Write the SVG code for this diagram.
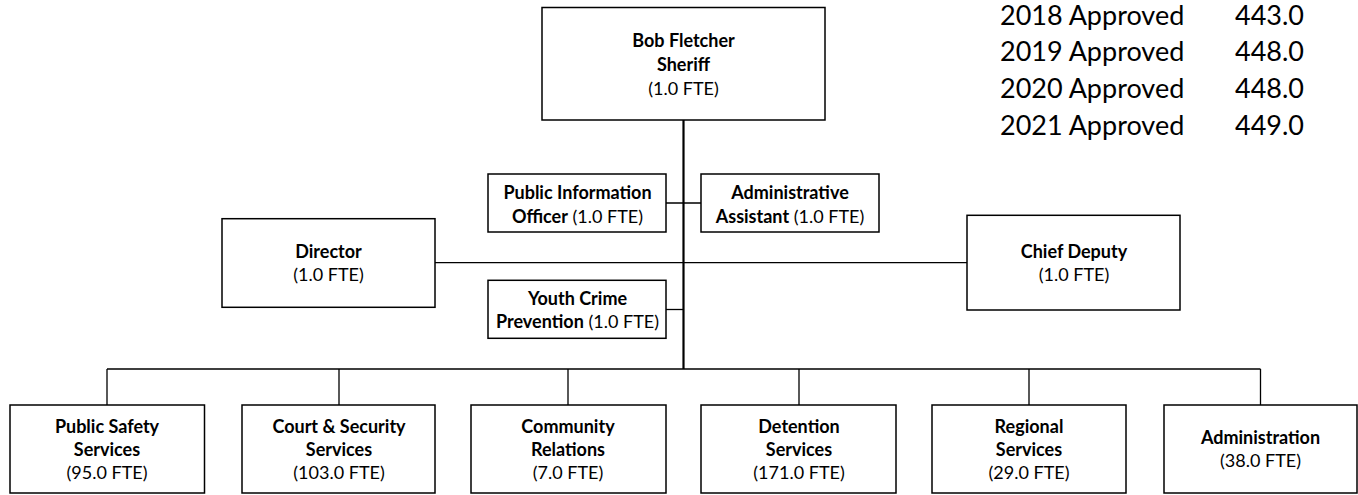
<svg xmlns="http://www.w3.org/2000/svg" width="1358" height="495" viewBox="0 0 1358 495">
<style>
.box{fill:#fff;stroke:#000;stroke-width:1.5}
.ln{fill:none;stroke:#000;stroke-width:1.3}
.trunk{fill:none;stroke:#000;stroke-width:2.2}
text{font-family:Lato,"Liberation Sans",sans-serif;font-size:18px;fill:#000;text-anchor:middle}
.b{font-weight:bold}
.yr{font-size:27px;text-anchor:start}
</style>
<rect width="1358" height="495" fill="#fff"/>
<g id="connectors">
<path class="trunk" d="M683.5 120V369"/>
<path class="ln" d="M666 203H683.5M683.5 203H701"/>
<path class="ln" d="M435 262.7H967"/>
<path class="ln" d="M666 309.5H683.5"/>
<path class="ln" d="M107 369H1260.5M107 369V405M339 369V405M568 369V405M799 369V405M1029 369V405M1260.5 369V405"/>
</g>
<g id="sheriff">
<rect class="box" x="542" y="7.5" width="283" height="112.5"/>
<text x="683.5" y="47" class="b">Bob Fletcher</text>
<text x="683.5" y="71" class="b">Sheriff</text>
<text x="683.5" y="95">(1.0 FTE)</text>
</g>
<g id="pio">
<rect class="box" x="488" y="174" width="178" height="58"/>
<text x="577.5" y="199" class="b">Public Information</text>
<text x="577.5" y="223"><tspan class="b">Officer</tspan> (1.0 FTE)</text>
</g>
<g id="admin-assistant">
<rect class="box" x="701" y="174" width="178" height="58"/>
<text x="790" y="199" class="b">Administrative</text>
<text x="790" y="223"><tspan class="b">Assistant</tspan> (1.0 FTE)</text>
</g>
<g id="director">
<rect class="box" x="222" y="218.7" width="213" height="88.6"/>
<text x="328.5" y="258" class="b">Director</text>
<text x="328.5" y="281">(1.0 FTE)</text>
</g>
<g id="chief-deputy">
<rect class="box" x="967" y="215.3" width="213" height="94.7"/>
<text x="1074" y="258" class="b">Chief Deputy</text>
<text x="1074" y="281">(1.0 FTE)</text>
</g>
<g id="youth">
<rect class="box" x="488" y="280.3" width="178" height="58"/>
<text x="577.5" y="305" class="b">Youth Crime</text>
<text x="577.5" y="328"><tspan class="b">Prevention</tspan> (1.0 FTE)</text>
</g>
<g id="public-safety">
<rect class="box" x="10" y="405" width="194.5" height="88"/>
<text x="107" y="433" class="b">Public Safety</text>
<text x="107" y="456" class="b">Services</text>
<text x="107" y="479">(95.0 FTE)</text>
</g>
<g id="court-security">
<rect class="box" x="242" y="405" width="193" height="88"/>
<text x="339" y="433" class="b">Court &amp; Security</text>
<text x="339" y="456" class="b">Services</text>
<text x="339" y="479">(103.0 FTE)</text>
</g>
<g id="community">
<rect class="box" x="471" y="405" width="195" height="88"/>
<text x="568" y="433" class="b">Community</text>
<text x="568" y="456" class="b">Relations</text>
<text x="568" y="479">(7.0 FTE)</text>
</g>
<g id="detention">
<rect class="box" x="701" y="405" width="195" height="88"/>
<text x="799" y="433" class="b">Detention</text>
<text x="799" y="456" class="b">Services</text>
<text x="799" y="479">(171.0 FTE)</text>
</g>
<g id="regional">
<rect class="box" x="932" y="405" width="194" height="88"/>
<text x="1029" y="433" class="b">Regional</text>
<text x="1029" y="456" class="b">Services</text>
<text x="1029" y="479">(29.0 FTE)</text>
</g>
<g id="administration">
<rect class="box" x="1164" y="405" width="193" height="88"/>
<text x="1260.5" y="444" class="b">Administration</text>
<text x="1260.5" y="467">(38.0 FTE)</text>
</g>
<g id="fte-table">
<text class="yr" x="1000" y="24.5">2018 Approved</text>
<text class="yr" x="1235" y="24.5">443.0</text>
<text class="yr" x="1000" y="61">2019 Approved</text>
<text class="yr" x="1235" y="61">448.0</text>
<text class="yr" x="1000" y="98">2020 Approved</text>
<text class="yr" x="1235" y="98">448.0</text>
<text class="yr" x="1000" y="134.5">2021 Approved</text>
<text class="yr" x="1235" y="134.5">449.0</text>
</g>
</svg>
